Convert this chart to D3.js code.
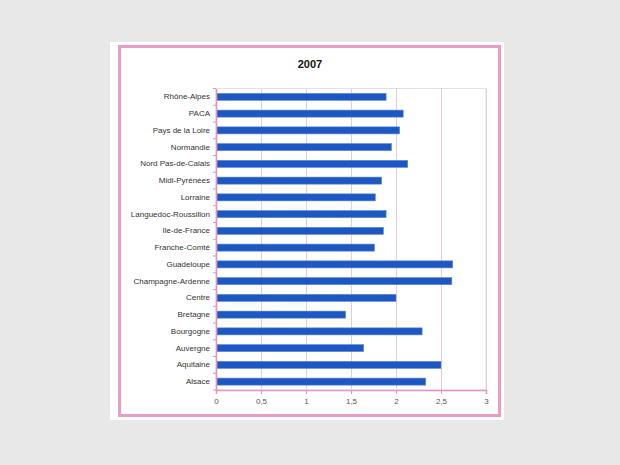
<!DOCTYPE html>
<html><head><meta charset="utf-8">
<script src="https://cdn.jsdelivr.net/npm/d3@7"></script>
<style>
html,body{margin:0;padding:0;background:#e8e8e8;}
svg{display:block;}
</style></head>
<body>
<svg id="c" width="620" height="465"></svg>
<script>
const title = "2007";
const categories = ["Rhône-Alpes","PACA","Pays de la Loire","Normandie","Nord Pas-de-Calais","Midi-Pyrénées","Lorraine","Languedoc-Roussillon","Ile-de-France","Franche-Comté","Guadeloupe","Champagne-Ardenne","Centre","Bretagne","Bourgogne","Auvergne","Aquitaine","Alsace"];
const values = [1.89,2.08,2.04,1.95,2.13,1.84,1.77,1.89,1.86,1.76,2.63,2.62,2.00,1.44,2.29,1.64,2.50,2.33];
const xTicks = [0,0.5,1,1.5,2,2.5,3];
const xTickLabels = ["0","0,5","1","1,5","2","2,5","3"];

const svg = d3.select("#c");
// white card
svg.append("rect").attr("x",110).attr("y",42).attr("width",394).attr("height",378).attr("fill","#ffffff");
// pink frame
svg.append("rect").attr("x",119.5).attr("y",46.5).attr("width",380).attr("height",369)
  .attr("fill","#fff").attr("stroke","#e89cc8").attr("stroke-width",3);

const L=216, R=486, T=88.5, B=390;
const x = d3.scaleLinear().domain([0,3]).range([L,R]);
const y = d3.scaleBand().domain(categories).range([T,B]).paddingInner(0.58).paddingOuter(0.29);

// plot border
svg.append("rect").attr("x",L).attr("y",T).attr("width",R-L).attr("height",B-T)
  .attr("fill","none").attr("stroke","#e6e0e6").attr("stroke-width",1);
// gridlines
svg.append("g").selectAll("line").data(xTicks.slice(1)).join("line")
  .attr("x1",d=>Math.round(x(d))+0.5).attr("x2",d=>Math.round(x(d))+0.5)
  .attr("y1",T).attr("y2",B).attr("stroke","#ecc8e0").attr("stroke-width",1);

// bars
svg.append("g").selectAll("rect").data(values).join("rect")
  .attr("x",x(0)+1).attr("y",(d,i)=>y(categories[i]))
  .attr("width",d=>x(d)-x(0)-1).attr("height",y.bandwidth())
  .attr("fill","#1c57c2").attr("stroke","#5b86d6").attr("stroke-width",0.6);

// x axis
const xAxis = d3.axisBottom(x).tickValues(xTicks).tickFormat((d,i)=>xTickLabels[i]).tickSize(4).tickPadding(4);
const gx = svg.append("g").attr("transform",`translate(0,${B})`).call(xAxis);
gx.select(".domain").attr("stroke","#e293c4").attr("stroke-width",1.5);
gx.selectAll(".tick line").attr("stroke","#e293c4");
gx.selectAll("text").attr("fill","#555").style("font-family","Liberation Sans, Arial, sans-serif").style("font-size","8px");

// y axis
const yAxis = d3.axisLeft(y).tickSize(0).tickPadding(6);
const gy = svg.append("g").attr("transform",`translate(${L},0)`).call(yAxis);
gy.select(".domain").attr("stroke","#e293c4").attr("stroke-width",1.5);
gy.selectAll("text").attr("fill","#333").style("font-family","Liberation Sans, Arial, sans-serif").style("font-size","8px");
// y ticks at band boundaries
const step = y.step();
const bounds = d3.range(categories.length+1).map(i=>T+i*step);
svg.append("g").selectAll("line").data(bounds).join("line")
  .attr("x1",L-3).attr("x2",L).attr("y1",d=>d).attr("y2",d=>d)
  .attr("stroke","#e293c4").attr("stroke-width",1);

// title
svg.append("text").attr("x",310).attr("y",68).attr("text-anchor","middle")
  .style("font-family","Liberation Sans, Arial, sans-serif").style("font-size","11px").style("font-weight","bold")
  .attr("fill","#111").text(title);
</script>
</body></html>
